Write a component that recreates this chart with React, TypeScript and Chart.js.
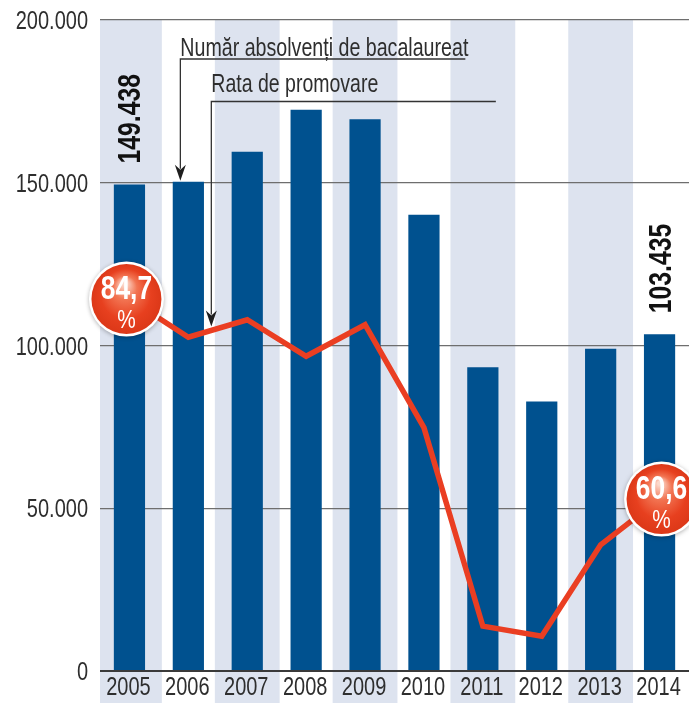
import React, { useEffect, useRef } from "react";
import { Chart, registerables } from "chart.js";

Chart.register(...registerables);

const years = ["2005", "2006", "2007", "2008", "2009", "2010", "2011", "2012", "2013", "2014"];
const graduates = [149438, 150300, 159500, 172400, 169500, 140200, 93300, 82800, 99000, 103435];
const passRate = [84.7, 80.1, 82.2, 77.8, 81.6, 69.2, 45.3, 44.1, 55.1, 60.6];
const yTicks = [0, 50000, 100000, 150000, 200000];
const labeledBars = [0, 9];
const labeledRates = [0, 9];
const titleGraduates = "Număr absolvenți de bacalaureat";
const titleRate = "Rata de promovare";

const FONT = "'Liberation Sans', Arial, sans-serif";
const BAR = "#00518f";
const BAND = "#dde3ef";
const RED = "#ea3e22";
const TEXT = "#2e2e2e";
const SX = 0.8;

const fmt = (v: number) => {
  const s = Math.round(v).toString();
  return s.replace(/\B(?=(\d{3})+(?!\d))/g, ".");
};

function scaledText(
  ctx: CanvasRenderingContext2D,
  text: string,
  x: number,
  y: number,
  align: CanvasTextAlign,
  sx: number
) {
  ctx.save();
  ctx.translate(x, y);
  ctx.scale(sx, 1);
  ctx.textAlign = align;
  ctx.fillText(text, 0, 0);
  ctx.restore();
}

function drawArrowDown(ctx: CanvasRenderingContext2D, x: number, tipY: number) {
  ctx.beginPath();
  ctx.moveTo(x, tipY);
  ctx.lineTo(x - 5.5, tipY - 16);
  ctx.lineTo(x, tipY - 11);
  ctx.lineTo(x + 5.5, tipY - 16);
  ctx.closePath();
  ctx.fillStyle = "#1e1e1e";
  ctx.fill();
}

const customPlugin = {
  id: "custom",
  beforeDraw(chart: any) {
    const { ctx, chartArea, scales } = chart;
    const xs = scales.x;
    const w = xs.width / years.length;
    ctx.save();
    ctx.fillStyle = BAND;
    years.forEach((_, i) => {
      if (i % 2 !== 0) return;
      const cx = xs.getPixelForValue(i);
      const left = Math.max(chartArea.left, cx - w * 0.55);
      const right = cx + w * 0.55;
      ctx.fillRect(left, chartArea.top, right - left, chart.height - 6 - chartArea.top);
    });
    ctx.restore();
  },
  afterDatasetsDraw(chart: any) {
    const { ctx, scales, chartArea } = chart;
    const xs = scales.x;
    const ys = scales.y;
    const y2 = scales.y2;
    const w = xs.width / years.length;
    ctx.save();
    ctx.textBaseline = "alphabetic";

    // axis labels
    ctx.fillStyle = TEXT;
    ctx.font = `25px ${FONT}`;
    yTicks.forEach((v) => {
      const y = ys.getPixelForValue(v);
      scaledText(ctx, fmt(v), chartArea.left - 12, y + 9, "right", SX);
    });
    years.forEach((yr, i) => {
      const x = xs.getPixelForValue(i);
      scaledText(ctx, yr, x - 1, chartArea.bottom + 24, "center", SX);
    });

    // rotated value labels above bars
    ctx.font = `bold 31px ${FONT}`;
    ctx.fillStyle = "#111";
    labeledBars.forEach((i) => {
      const x = xs.getPixelForValue(i);
      const top = ys.getPixelForValue(graduates[i]);
      ctx.save();
      ctx.translate(x + 11, top - 21);
      ctx.rotate(-Math.PI / 2);
      ctx.scale(SX, 1);
      ctx.textAlign = "left";
      ctx.fillText(fmt(graduates[i]), 0, 0);
      ctx.restore();
    });

    // annotation: graduates
    const ax1 = xs.getPixelForValue(1) - 8;
    const tip1 = ys.getPixelForValue(graduates[1]) - 1;
    ctx.font = `25px ${FONT}`;
    ctx.fillStyle = TEXT;
    const tw1 = ctx.measureText(titleGraduates).width;
    const s1 = 288 / tw1;
    scaledText(ctx, titleGraduates, ax1, 56, "left", s1);
    ctx.strokeStyle = "#333";
    ctx.lineWidth = 1.3;
    ctx.beginPath();
    ctx.moveTo(ax1 + 285, 59);
    ctx.lineTo(ax1, 59);
    ctx.lineTo(ax1, tip1 - 12);
    ctx.stroke();
    drawArrowDown(ctx, ax1, tip1);

    // annotation: pass rate
    const ax2 = xs.getPixelForValue(1) + w * 0.39;
    const p1x = xs.getPixelForValue(1);
    const p2x = xs.getPixelForValue(2);
    const t = (ax2 - p1x) / (p2x - p1x);
    const lineY =
      y2.getPixelForValue(passRate[1]) +
      t * (y2.getPixelForValue(passRate[2]) - y2.getPixelForValue(passRate[1]));
    const tip2 = lineY - 4;
    ctx.fillStyle = TEXT;
    const tw2 = ctx.measureText(titleRate).width;
    scaledText(ctx, titleRate, ax2, 92, "left", 167 / tw2);
    ctx.beginPath();
    ctx.moveTo(xs.getPixelForValue(6) + 13, 101.5);
    ctx.lineTo(ax2, 101.5);
    ctx.lineTo(ax2, tip2 - 12);
    ctx.stroke();
    drawArrowDown(ctx, ax2, tip2);

    // circles
    labeledRates.forEach((i) => {
      const cx = xs.getPixelForValue(i) - (i === 0 ? 3 : -2);
      const cy = y2.getPixelForValue(passRate[i]);
      const r = 35;
      ctx.save();
      ctx.shadowColor = "rgba(0,0,0,0.3)";
      ctx.shadowBlur = 4;
      ctx.shadowOffsetY = 1;
      ctx.beginPath();
      ctx.arc(cx, cy, r + 2.5, 0, Math.PI * 2);
      ctx.fillStyle = "#ffffff";
      ctx.fill();
      ctx.restore();
      const g = ctx.createRadialGradient(cx - 2, cy - 16, 2, cx, cy, r);
      g.addColorStop(0, "#fcd9cc");
      g.addColorStop(0.3, "#f27452");
      g.addColorStop(0.7, "#e7401f");
      g.addColorStop(1, "#dc3818");
      ctx.beginPath();
      ctx.arc(cx, cy, r, 0, Math.PI * 2);
      ctx.fillStyle = g;
      ctx.fill();
      ctx.fillStyle = "#ffffff";
      ctx.font = `bold 33px ${FONT}`;
      scaledText(ctx, passRate[i].toFixed(1).replace(".", ","), cx, cy, "center", SX);
      ctx.font = `26px ${FONT}`;
      scaledText(ctx, "%", cx, cy + 29, "center", SX);
    });
    ctx.restore();
  },
};

export default function App() {
  const ref = useRef<HTMLCanvasElement | null>(null);
  useEffect(() => {
    document.body.style.margin = "0";
    if (!ref.current) return;
    const chart = new Chart(ref.current, {
      type: "bar",
      data: {
        labels: years,
        datasets: [
          {
            type: "line",
            data: passRate,
            yAxisID: "y2",
            borderColor: RED,
            borderWidth: 5.5,
            pointRadius: 0,
            tension: 0,
            order: 0,
            borderJoinStyle: "miter",
          } as any,
          {
            type: "bar",
            data: graduates,
            yAxisID: "y",
            backgroundColor: BAR,
            borderWidth: 0,
            categoryPercentage: 1,
            barPercentage: 0.53,
            order: 1,
          },
        ],
      },
      options: {
        responsive: false,
        animation: false,
        layout: { padding: { top: 20, left: 0, right: 0, bottom: 0 } },
        plugins: { legend: { display: false }, tooltip: { enabled: false } },
        scales: {
          x: {
            grid: { display: false, drawTicks: false },
            border: { display: false },
            ticks: { display: false },
            afterFit: (s: any) => {
              s.height = 38;
            },
          },
          y: {
            min: 0,
            max: 200000,
            afterBuildTicks: (s: any) => {
              s.ticks = yTicks.map((v) => ({ value: v }));
            },
            grid: {
              color: (c: any) => (c.tick && c.tick.value === 0 ? "#3a3a3a" : "#6e6e6e"),
              lineWidth: (c: any) => (c.tick && c.tick.value === 0 ? 2 : 1.3),
              drawTicks: false,
            },
            border: { display: false },
            ticks: { display: false },
            afterFit: (s: any) => {
              s.width = 100;
            },
          },
          y2: {
            display: false,
            min: 39.9,
            max: 118.3,
          },
        },
      },
      plugins: [customPlugin],
    });
    return () => chart.destroy();
  }, []);
  return (
    <div style={{ position: "fixed", left: 0, top: 0, width: 689, height: 709, background: "#fff" }}>
      <canvas ref={ref} width={689} height={709} style={{ width: 689, height: 709, display: "block" }} />
    </div>
  );
}
